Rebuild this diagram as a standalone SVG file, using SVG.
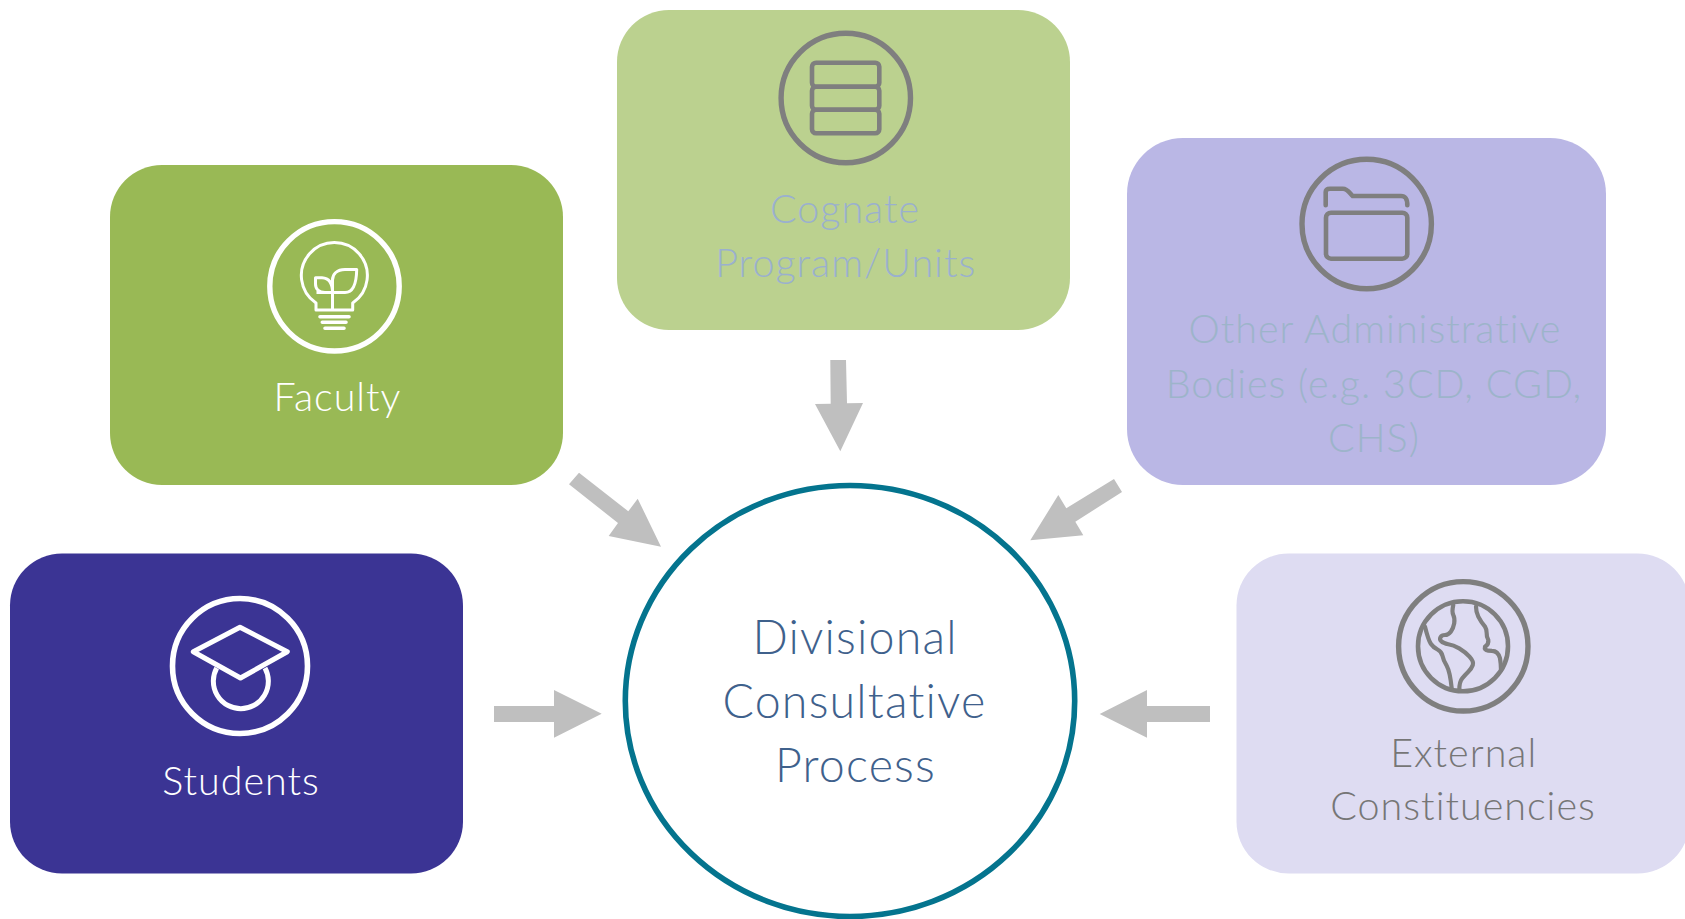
<svg xmlns="http://www.w3.org/2000/svg" width="1685" height="919" viewBox="0 0 1685 919">
<style>
.lbl{font-family:"Lato","Open Sans","Liberation Sans",sans-serif;font-weight:300;font-size:39.5px;letter-spacing:1px;text-anchor:middle}
.big{font-size:46.5px;letter-spacing:1.2px;fill:#3f618c}
.w{fill:#fff}.g{fill:#767676}
.ring{fill:none;stroke-width:5.4}
.ws{stroke:#fff;fill:none}
.gs{stroke:#7f7f7f;fill:none}
.arrow{fill:#bfbfbf}
</style>
<rect width="1685" height="919" fill="#fff"/>
<g id="connectors">
<polygon class="arrow" points="830.3,360 846,360 847,403.3 863,403 840.3,451.3 815,404 830.7,403.7"/>
<polygon class="arrow" points="579,472.7 569,484.3 618,523 608.7,536 661,546.7 637.7,498.7 628.3,511.3"/>
<polygon class="arrow" points="1114,479 1122,492 1075.3,521.7 1083.3,535.3 1030.3,540.3 1058.3,495 1066.3,508.3"/>
<polygon class="arrow" points="1210,706 1210,722 1147,722 1147,737.7 1099.7,714 1147,690 1147,706"/>
<polygon class="arrow" points="494,706 554,706 554,690 601.7,713.7 554,737.7 554,722 494,722"/>
</g>
<g id="center">
<ellipse cx="850" cy="701" rx="224.7" ry="215.5" fill="#fff" stroke="#04748e" stroke-width="5.6"/>
<text class="lbl big" x="855" y="654">Divisional</text>
<text class="lbl big" x="854.5" y="718">Consultative</text>
<text class="lbl big" x="855.5" y="782">Process</text>
</g>
<g id="faculty">
<rect x="110" y="165" width="453" height="320" rx="52" fill="#99b955"/>
<circle class="ring ws" cx="334.5" cy="286.3" r="64.7"/>
<g class="ws" stroke-width="3" stroke-linejoin="round">
<path d="M316,310V303A33,33 0 1 1 352.7,303V310Z"/>
<path d="M332.5,310V280C332.5,274 337,269.5 345,269.5H356.7C356.5,282 354,292.5 345,292.5H316.5"/>
<path d="M332.5,292.5C332.5,282 328,278 322,277.7H315.5V284C315.5,289 319,292.5 325,292.5"/>
</g>
<path class="ws" stroke-width="3.6" stroke-linecap="round" d="M320,316.7H349M322.3,322.3H346M325,328.3H344"/>
<text class="lbl w" x="337.5" y="410.7">Faculty</text>
</g>
<g id="cognate">
<rect x="617" y="10" width="453" height="320" rx="52" fill="#bbd18f"/>
<circle class="ring gs" cx="845.8" cy="98" r="64.7"/>
<g class="gs" stroke-width="4.6">
<rect x="812" y="62.7" width="67.3" height="24" rx="4"/>
<rect x="812" y="86.7" width="67.3" height="23" rx="4"/>
<rect x="812" y="109.7" width="67.3" height="23.6" rx="4"/>
</g>
<text class="lbl" fill="#9ab0ce" x="845" y="222.7">Cognate</text>
<text class="lbl" fill="#9ab0ce" x="845.7" y="276.7">Program/Units</text>
</g>
<g id="other">
<rect x="1127" y="138" width="479" height="347" rx="56" fill="#bab7e5"/>
<circle class="ring gs" cx="1366.7" cy="224" r="64.7"/>
<g class="gs" stroke-width="4.6" stroke-linecap="round">
<rect x="1326" y="212.7" width="81.3" height="46" rx="5"/>
<path d="M1325.7,205.3V192C1325.7,190 1327,188.7 1330,188.7H1343C1347,188.7 1349,192 1352.7,196H1401C1405,196 1407.3,198 1407.3,205.3"/>
</g>
<text class="lbl" fill="#9db4ca" x="1375" y="343.3">Other Administrative</text>
<text class="lbl" fill="#9db4ca" x="1374" y="398.3">Bodies (e.g. 3CD, CGD,</text>
<text class="lbl" fill="#9db4ca" x="1374" y="451.7">CHS)</text>
</g>
<g id="students">
<rect x="10" y="553.5" width="453" height="320" rx="52" fill="#3b3494"/>
<circle class="ws" stroke-width="5.6" cx="240" cy="666" r="67.5"/>
<path class="ws" stroke-width="5" stroke-linejoin="round" d="M240,627.3L287.3,651.7L240.5,678L193.3,651.7Z"/>
<path class="ws" stroke-width="5" d="M216.7,668A27.5,27.5 0 1 0 265,668"/>
<text class="lbl w" x="241" y="795">Students</text>
</g>
<g id="external">
<rect x="1236.5" y="553.5" width="453" height="320" rx="52" fill="#dedcf2"/>
<circle class="ring gs" cx="1463.3" cy="646.3" r="64.7"/>
<circle class="gs" stroke-width="4.6" cx="1463" cy="646.3" r="45"/>
<g class="gs" stroke-width="4.2" stroke-linecap="round">
<path d="M1453.3,605Q1451.7,611.7 1453.3,615Q1455,618.3 1454.2,623.3Q1453.3,628.3 1450.8,631.7Q1448.3,635 1445,635Q1441.7,635 1440.5,637.2Q1439.3,639.3 1441.3,641.3Q1443.3,643.3 1448.3,644.2Q1453.3,645 1459.2,648.3Q1465,651.7 1469.5,656.7Q1474,661.7 1472.8,665Q1471.7,668.3 1468.3,671.7Q1465,675 1462.2,678.3Q1459.3,681.7 1459.3,690"/>
<path d="M1425,626.7Q1428.3,640 1430.8,643.7Q1433.3,647.3 1437.5,649.5Q1441.7,651.7 1442.5,655.8Q1443.3,660 1446.7,665.8Q1450,671.7 1451.7,688.3"/>
<path d="M1476,606.7Q1476,612 1478.3,616.7Q1481,622 1485,626.7Q1487,630 1486.7,633.3Q1486.5,637 1488.3,640Q1489,644 1485,646.7Q1484,650 1488.3,650.7L1492,650.9Q1498,651 1500,658.3Q1501,664 1501,670"/>
</g>
<text class="lbl g" x="1463.7" y="766.7">External</text>
<text class="lbl g" x="1463" y="820">Constituencies</text>
</g>
</svg>
